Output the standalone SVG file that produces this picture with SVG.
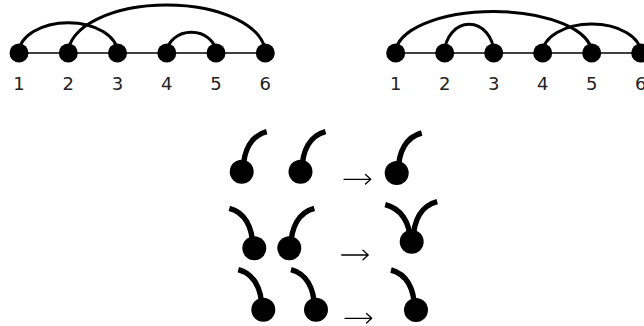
<svg xmlns="http://www.w3.org/2000/svg" width="644" height="326" viewBox="0 0 644 326">
<style>
.base{stroke:#000;stroke-width:1.5;fill:none}
.arc{stroke:#000;stroke-width:3;fill:none}
.node{fill:#000}
.lbl{font-family:"DejaVu Sans",sans-serif;font-size:18px;fill:#222;text-anchor:middle}
.stem{stroke:#000;stroke-width:5.5;fill:none;stroke-linecap:butt}
.arrow{stroke:#000;stroke-width:1.3;fill:none;stroke-linecap:round;stroke-linejoin:round}
</style>
<defs>
<g id="rball">
<path class="stem" d="M1.5 0 C1.5 -22 10 -36 25 -40"/>
<circle r="12" class="node"/>
</g>
<g id="lball">
<path class="stem" d="M-1.5 0 C-1.5 -22 -10 -36 -25 -40"/>
<circle r="12" class="node"/>
</g>
</defs>
<g id="connectors">
<line class="base" x1="19" y1="53" x2="265.3" y2="53"/>
<path class="arc" d="M19 53 A49.25 30.3 0 0 1 117.5 53"/>
<path class="arc" d="M68.3 53 A98.5 48 0 0 1 265.3 53"/>
<path class="arc" d="M166.8 53 A24.6 20.7 0 0 1 216 53"/>
<line class="base" x1="395.7" y1="53" x2="640.7" y2="53"/>
<path class="arc" d="M395.7 53 A98 41.5 0 0 1 591.7 53"/>
<path class="arc" d="M444.7 53 A24.5 28.7 0 0 1 493.7 53"/>
<path class="arc" d="M542.7 53 A49 29 0 0 1 640.7 53"/>
</g>
<g id="left-nodes">
<g id="L1"><circle class="node" cx="19" cy="53" r="9.5"/><text class="lbl" x="19" y="90">1</text></g>
<g id="L2"><circle class="node" cx="68.3" cy="53" r="9.5"/><text class="lbl" x="68.3" y="90">2</text></g>
<g id="L3"><circle class="node" cx="117.5" cy="53" r="9.5"/><text class="lbl" x="117.5" y="90">3</text></g>
<g id="L4"><circle class="node" cx="166.8" cy="53" r="9.5"/><text class="lbl" x="166.8" y="90">4</text></g>
<g id="L5"><circle class="node" cx="216" cy="53" r="9.5"/><text class="lbl" x="216" y="90">5</text></g>
<g id="L6"><circle class="node" cx="265.3" cy="53" r="9.5"/><text class="lbl" x="265.3" y="90">6</text></g>
</g>
<g id="right-nodes">
<g id="R1"><circle class="node" cx="395.7" cy="53" r="9.5"/><text class="lbl" x="395.7" y="90">1</text></g>
<g id="R2"><circle class="node" cx="444.7" cy="53" r="9.5"/><text class="lbl" x="444.7" y="90">2</text></g>
<g id="R3"><circle class="node" cx="493.7" cy="53" r="9.5"/><text class="lbl" x="493.7" y="90">3</text></g>
<g id="R4"><circle class="node" cx="542.7" cy="53" r="9.5"/><text class="lbl" x="542.7" y="90">4</text></g>
<g id="R5"><circle class="node" cx="591.7" cy="53" r="9.5"/><text class="lbl" x="591.7" y="90">5</text></g>
<g id="R6"><circle class="node" cx="640.7" cy="53" r="9.5"/><text class="lbl" x="640.7" y="90">6</text></g>
</g>
<g id="rules">
<g id="row1">
<use href="#rball" x="241.7" y="171.7"/>
<use href="#rball" x="300.5" y="171.7"/>
<path class="arrow" d="M344 179.3 H370.5 M365.5 174.5 L370.7 179.3 L365.5 184.1"/>
<use href="#rball" x="396.7" y="173"/>
</g>
<g id="row2">
<use href="#lball" x="254.3" y="248.3"/>
<use href="#rball" x="289.3" y="248.3"/>
<path class="arrow" d="M341.7 255 H368 M363 250.2 L368.2 255 L363 259.8"/>
<g transform="translate(411.7 241.7)">
<path class="stem" d="M-1.5 0 C-1.5 -20 -11 -33 -26.5 -37"/>
<path class="stem" d="M1.5 0 C1.5 -22 10 -36 25.5 -40"/>
<circle r="12" class="node"/>
</g>
</g>
<g id="row3">
<use href="#lball" x="263.3" y="309.7"/>
<use href="#lball" x="316" y="309.7"/>
<path class="arrow" d="M345 318.3 H371.5 M366.5 313.5 L371.7 318.3 L366.5 323.1"/>
<use href="#lball" x="416" y="310"/>
</g>
</g>
</svg>
